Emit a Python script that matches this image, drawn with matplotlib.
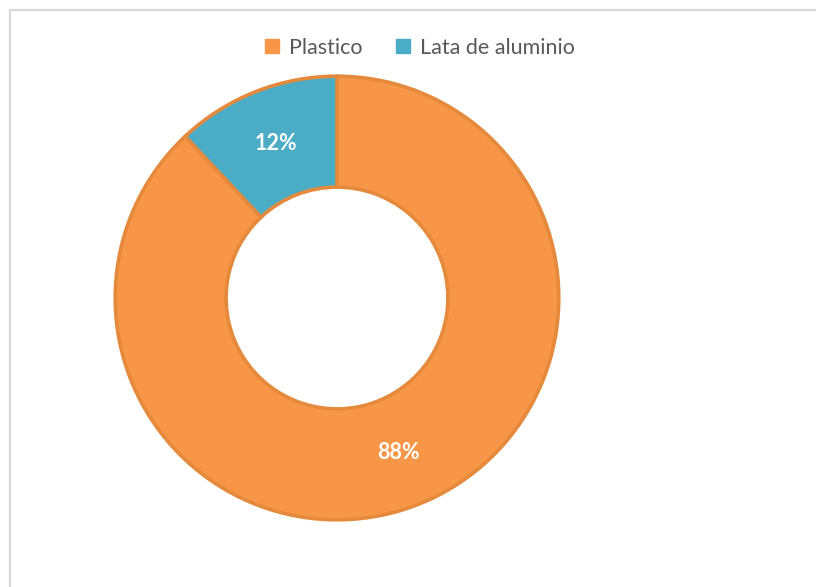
import matplotlib
matplotlib.use("Agg")
import matplotlib.pyplot as plt
from matplotlib.patches import Rectangle
from matplotlib.lines import Line2D

categories = ["Plastico", "Lata de aluminio"]
shares = [88, 12]
colors = ["#F79646", "#4BACC6"]
edge_colors = ["#E58A3C", "#E58A3C"]

plt.rcParams["font.family"] = ["Lato", "DejaVu Sans"]

W, H = 816, 587
fig = plt.figure(figsize=(W / 100, H / 100), dpi=100)
fig.patch.set_facecolor("white")

# outer chart frame
fig.patches.append(Rectangle((10 / W, -0.05), 1.2, (H - 10) / H + 0.05,
                             transform=fig.transFigure, fill=False,
                             edgecolor="#D9D9D9", linewidth=1.6, zorder=0))

cx, cy, r = 337, 298, 224
ax = fig.add_axes([(cx - r) / W, (H - cy - r) / H, 2 * r / W, 2 * r / H])
ax.set_aspect("equal")

wedges, _, autotexts = ax.pie(
    shares, colors=colors, startangle=90, counterclock=False, radius=1,
    autopct=lambda p: f"{p:.0f}%", pctdistance=0.75,
    wedgeprops=dict(width=0.5, linewidth=2.6),
    textprops=dict(color="white", fontsize=15.5, fontweight="bold"))
for w, ec in zip(wedges, edge_colors):
    w.set_edgecolor(ec)
ax.set_xlim(-1.01, 1.01)
ax.set_ylim(-1.01, 1.01)
ax.axis("off")

handles = [Line2D([], [], marker="s", linestyle="none", markersize=10,
                  markerfacecolor=c, markeredgecolor=c) for c in colors]
fig.legend(handles, categories, loc="center", ncol=2,
           bbox_to_anchor=(418 / W, 1 - 48 / H), frameon=False,
           fontsize=15.5, labelcolor="#595959", handletextpad=0.3,
           columnspacing=1.35, handlelength=1.0)

fig.savefig("out.png", dpi=100)
